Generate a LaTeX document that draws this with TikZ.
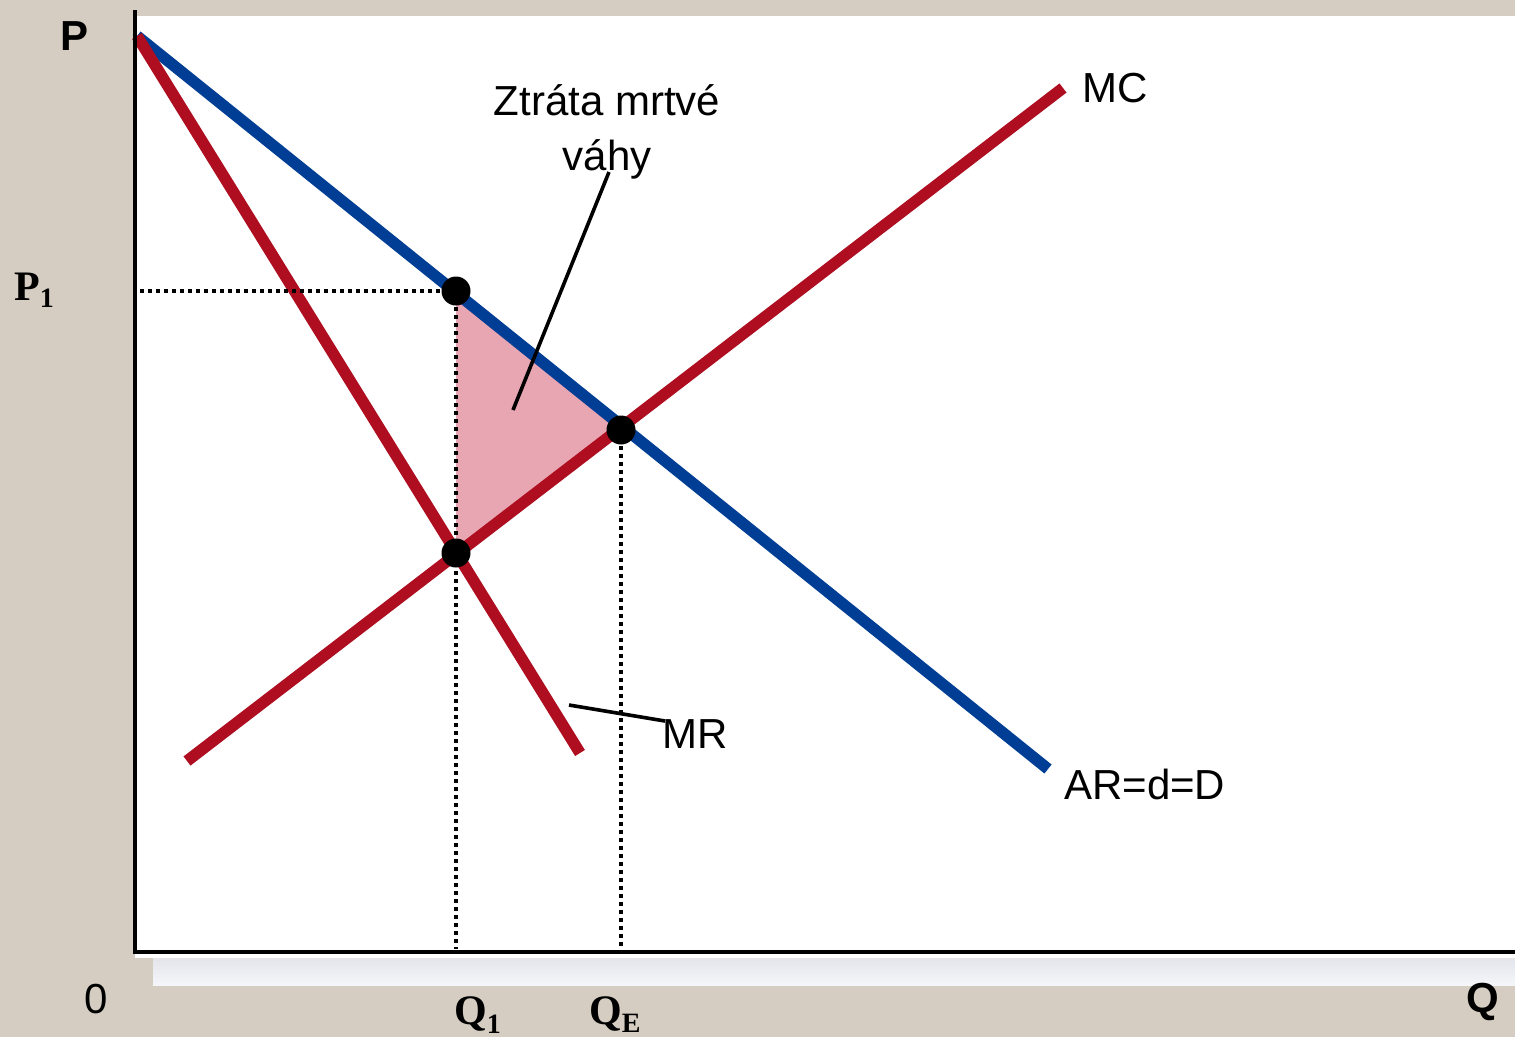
\documentclass[tikz,border=0pt]{standalone}
\usepackage{fontspec}
\setmainfont{Liberation Sans}
\newfontfamily\timesf{Liberation Serif}
\definecolor{bg}{RGB}{213,205,194}
\definecolor{dblue}{RGB}{0,62,150}
\definecolor{dred}{RGB}{174,14,32}
\definecolor{dpink}{RGB}{232,165,178}
\definecolor{stripA}{RGB}{227,229,235}
\definecolor{stripB}{RGB}{244,246,250}
\newcommand{\lowsub}[2]{\raisebox{-#1}{\fontsize{28}{28}\selectfont #2}}
\begin{document}
\begin{tikzpicture}[x=1pt,y=-1pt,
  lab/.style={inner sep=0pt,font=\fontsize{42}{55}\selectfont},
  blab/.style={inner sep=0pt,font=\fontsize{42}{55}\selectfont\bfseries},
  slab/.style={inner sep=0pt,font=\timesf\fontsize{42}{55}\selectfont\bfseries},
  curveD/.style={draw=dblue,line width=11.5pt},
  curveR/.style={draw=dred,line width=11.5pt},
  dotline/.style={draw=black,line width=4pt,dash pattern=on 4pt off 4pt},
  leader/.style={draw=black,line width=3.6pt},
  axisline/.style={draw=black,line width=4.5pt},
  eqdot/.style={circle,fill=black,minimum size=29pt,inner sep=0pt}]
\useasboundingbox (0,0) rectangle (1515,1037);
\fill[bg] (0,0) rectangle (1515,1037);
\fill[white] (135,16) rectangle (1515,958);
\shade[top color=stripA,bottom color=stripB] (153,958) rectangle (1515,985);

% key coordinates
\coordinate (D0) at (137,36);
\coordinate (D1) at (1048,769);
\coordinate (MR1) at (580,753);
\coordinate (MC0) at (187,761);
\coordinate (MC1) at (1063,88);
\coordinate (A) at (456,291);
\coordinate (E) at (621,430);
\coordinate (B) at (456,553);
\coordinate (P1y) at (140,291);
\coordinate (Q1x) at (456,949);
\coordinate (QEx) at (621,947);

% deadweight loss triangle
\fill[dpink] (A) -- (E) -- (B) -- cycle;

% curves
\draw[curveD] (D0) -- (D1);
\draw[curveR] (D0) -- (MR1);
\draw[curveR] (MC0) -- (MC1);

% dotted guides
\draw[dotline] (P1y) -- (A);
\draw[dotline] (A) -- (Q1x);
\draw[dotline] (E) -- (QEx);

% axes
\coordinate (O) at (135,952);
\coordinate (Ytop) at (135,10);
\coordinate (Xend) at (1515,952);
\draw[axisline] (135,954) -- (Ytop);
\draw[axisline] (133,952) -- (Xend);

% points
\node[eqdot] (pA) at (A) {};
\node[eqdot] (pE) at (E) {};
\node[eqdot] (pB) at (B) {};

% labels
\node[blab,anchor=base west] (Plab) at (60,50) {P};
\node[slab,anchor=base west] (P1lab) at (14,300) {P\lowsub{7pt}{1}};
\node[lab,anchor=base west] (zero) at (84,1013) {0};
\node[slab,anchor=base west] (Q1lab) at (454,1024) {Q\lowsub{9pt}{1}};
\node[slab,anchor=base west] (QElab) at (589,1024) {Q\lowsub{8pt}{E}};
\node[blab,anchor=base west] (Qlab) at (1466,1012) {Q};
\node[lab,anchor=base west] (MClab) at (1082,102) {MC};
\node[lab,anchor=base west] (ARlab) at (1064,799) {AR=d=D};
\node[lab,anchor=base west] (MRlab) at (662,748) {MR};
\node[lab,align=center,anchor=base] (DWL) at (607,170) {Ztráta mrtvé\\váhy};

% leaders
\coordinate (dwlS) at (609,172);
\coordinate (dwlE) at (513,410);
\draw[leader] (dwlS) -- (dwlE);
\coordinate (mrS) at (665,721);
\coordinate (mrE) at (569,705);
\draw[leader] (mrS) -- (mrE);
\end{tikzpicture}
\end{document}
